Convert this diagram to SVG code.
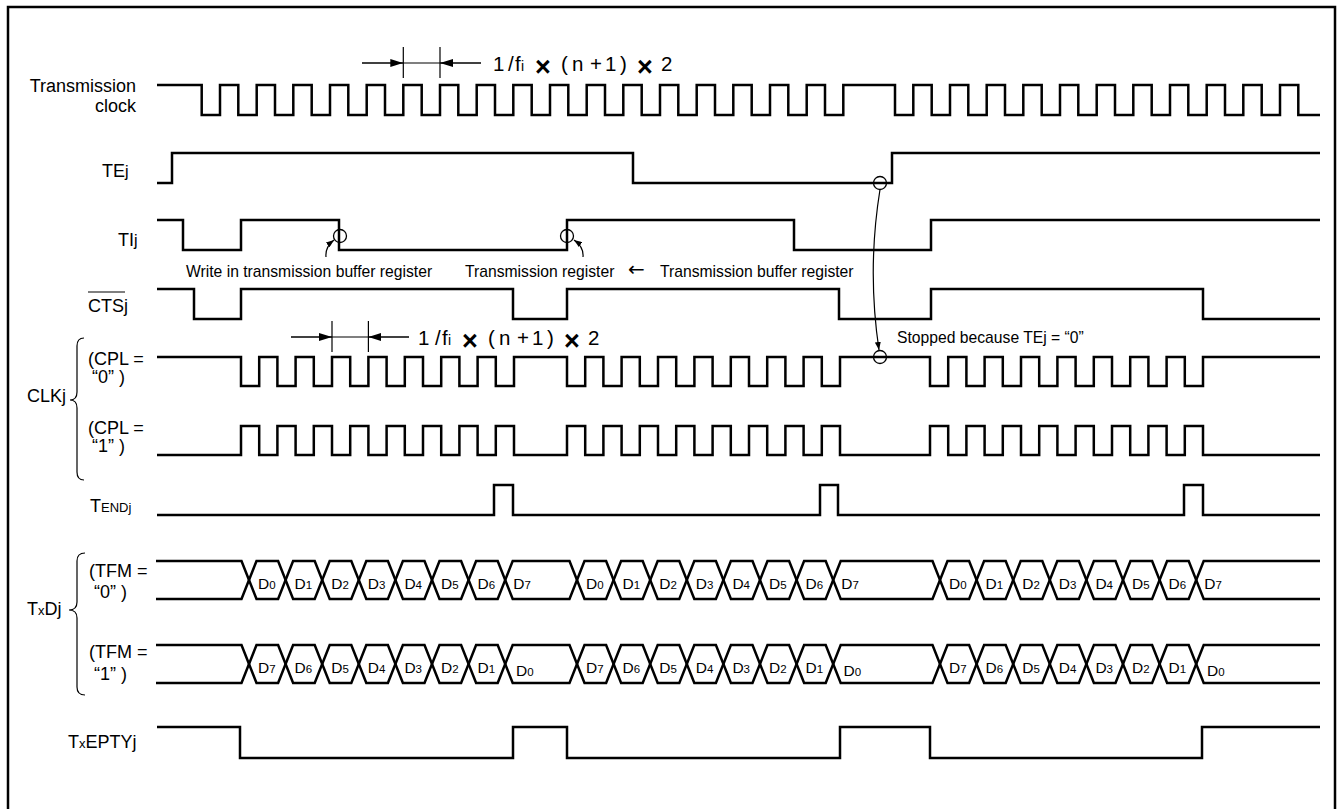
<svg xmlns="http://www.w3.org/2000/svg" xmlns:xlink="http://www.w3.org/1999/xlink" width="1340" height="809" viewBox="0 0 1340 809">
<style>
.sig{fill:none;stroke:#000;stroke-width:2.5;stroke-linejoin:miter;stroke-linecap:butt}
.thin{fill:none;stroke:#000;stroke-width:1.2}
.dim{fill:none;stroke:#000;stroke-width:1.5}
.circ{fill:none;stroke:#000;stroke-width:1.3}
.t{font-family:"Liberation Sans",Arial,sans-serif;fill:#000}
.lab{font-size:18px}
.ann{font-size:15.7px}
.d{font-size:15.5px}
.sub{font-size:11.5px}
.big{font-size:20.5px}
.mul{font-size:27px;font-weight:bold}
</style>
<defs>
<marker id="ah" viewBox="0 0 10 10" refX="10" refY="5" markerWidth="13" markerHeight="8" markerUnits="userSpaceOnUse" orient="auto" preserveAspectRatio="none"><path d="M0 0L10 5L0 10z" fill="#000"/></marker>
<marker id="ahs" viewBox="0 0 10 10" refX="10" refY="5" markerWidth="8" markerHeight="6" markerUnits="userSpaceOnUse" orient="auto" preserveAspectRatio="none"><path d="M0 0L10 5L0 10z" fill="#000"/></marker>
<g id="bus">
<path class="sig" d="M156 -19H241.5L256.5 19H278.1L293.1 -19H314.7L329.7 19H351.3L366.3 -19H387.9L402.9 19H424.5L439.5 -19H461.1L476.1 19H497.7L512.7 -19H569.5L584.5 19H606.1L621.1 -19H642.7L657.7 19H679.3L694.3 -19H715.9L730.9 19H752.5L767.5 -19H789.1L804.1 19H825.7L840.7 -19H932.5L947.5 19H969.1L984.1 -19H1005.7L1020.7 19H1042.3L1057.3 -19H1078.9L1093.9 19H1115.5L1130.5 -19H1152.1L1167.1 19H1188.7L1203.7 -19H1320"/>
<path class="sig" d="M156 19H241.5L256.5 -19H278.1L293.1 19H314.7L329.7 -19H351.3L366.3 19H387.9L402.9 -19H424.5L439.5 19H461.1L476.1 -19H497.7L512.7 19H569.5L584.5 -19H606.1L621.1 19H642.7L657.7 -19H679.3L694.3 19H715.9L730.9 -19H752.5L767.5 19H789.1L804.1 -19H825.7L840.7 19H932.5L947.5 -19H969.1L984.1 19H1005.7L1020.7 -19H1042.3L1057.3 19H1078.9L1093.9 -19H1115.5L1130.5 19H1152.1L1167.1 -19H1188.7L1203.7 19H1320"/>
</g>
</defs>
<rect width="1340" height="809" fill="#fff"/>
<rect id="frame" x="8" y="7" width="1327" height="812" fill="none" stroke="#000" stroke-width="2.5"/>

<g id="transmission-clock">
<text class="t lab" x="136" y="92" text-anchor="end">Transmission</text>
<text class="t lab" x="136" y="112" text-anchor="end">clock</text>
<path class="sig" d="M157 85H201.7V115H220V85H238.3V115H256.7V85H275V115H293.3V85H311.7V115H330V85H348.3V115H366.7V85H385V115H403.3V85H421.7V115H440V85H458.3V115H476.7V85H495V115H513.3V85H531.7V115H550V85H568.3V115H586.7V85H605V115H623.3V85H641.7V115H660V85H678.3V115H696.7V85H715V115H733.3V85H751.7V115H770V85H788.3V115H806.7V85H825V115H843.3V85H895V115H913.3V85H931.7V115H950V85H968.3V115H986.7V85H1005V115H1023.3V85H1041.7V115H1060V85H1078.3V115H1096.7V85H1115V115H1133.3V85H1151.7V115H1170V85H1188.3V115H1206.7V85H1225V115H1243.3V85H1261.7V115H1280V85H1298.3V115H1320"/>
</g>

<g id="TEj">
<text class="t lab" x="102" y="177">TE<tspan font-size="16">j</tspan></text>
<path class="sig" d="M157 183H172V153H633V183H892V153H1320"/>
</g>

<g id="TIj">
<text class="t lab" x="118" y="246">TI<tspan font-size="16">j</tspan></text>
<path class="sig" d="M157 220H183V250H241V220H339V250H567V220H794V250H931V220H1320"/>
</g>

<g id="CTSj">
<text class="t lab" x="88" y="312" font-size="16.5">CTSj</text>
<line class="thin" x1="88" y1="292" x2="125" y2="292"/>
<path class="sig" d="M157 289H194V319H241V289H513V319H567V289H839V319H931V289H1203V319H1320"/>
</g>

<g id="CLKj">
<text class="t lab" x="27" y="402">CLKj</text>
<path class="thin" d="M84 338Q77 338 77 346L77 392Q77 400 70 400Q77 400 77 408L77 472Q77 480 84 480"/>
<text class="t lab" x="88" y="365">(CPL =</text>
<text class="t lab" x="92" y="383">“0” )</text>
<text class="t lab" x="88" y="434">(CPL =</text>
<text class="t lab" x="92" y="452">“1” )</text>
<path class="sig" d="M157 357H241V386H259.2V357H277.4V386H295.6V357H313.8V386H332V357H350.2V386H368.4V357H386.6V386H404.8V357H423V386H441.2V357H459.4V386H477.6V357H495.8V386H514V357H567V386H585.2V357H603.4V386H621.6V357H639.8V386H658V357H676.2V386H694.4V357H712.6V386H730.8V357H749V386H767.2V357H785.4V386H803.6V357H821.8V386H840V357H930V386H948.2V357H966.4V386H984.6V357H1002.8V386H1021V357H1039.2V386H1057.4V357H1075.6V386H1093.8V357H1112V386H1130.2V357H1148.4V386H1166.6V357H1184.8V386H1203V357H1320"/>
<path class="sig" d="M157 455H241V426H259.2V455H277.4V426H295.6V455H313.8V426H332V455H350.2V426H368.4V455H386.6V426H404.8V455H423V426H441.2V455H459.4V426H477.6V455H495.8V426H514V455H567V426H585.2V455H603.4V426H621.6V455H639.8V426H658V455H676.2V426H694.4V455H712.6V426H730.8V455H749V426H767.2V455H785.4V426H803.6V455H821.8V426H840V455H930V426H948.2V455H966.4V426H984.6V455H1002.8V426H1021V455H1039.2V426H1057.4V455H1075.6V426H1093.8V455H1112V426H1130.2V455H1148.4V426H1166.6V455H1184.8V426H1203V455H1320"/>
</g>

<g id="TENDj">
<text class="t lab" x="90" y="512">T<tspan font-size="13">ENDj</tspan></text>
<path class="sig" d="M157 515H494V485H513V515H820V485H838V515H1184V485H1203V515H1320"/>
</g>

<g id="TxDj">
<text class="t lab" x="27" y="615">T<tspan font-size="13">x</tspan>Dj</text>
<path class="thin" d="M85 553Q77 553 77 561L77 602Q77 610 69 610Q77 610 77 618L77 687Q77 695 85 695"/>
<text class="t lab" x="89" y="577">(TFM =</text>
<text class="t lab" x="94" y="598">“0” )</text>
<text class="t lab" x="89" y="658">(TFM =</text>
<text class="t lab" x="94" y="680">“1” )</text>
<use xlink:href="#bus" href="#bus" y="580"/>
<use xlink:href="#bus" href="#bus" y="664"/>
<g class="t d">
<text x="258" y="589">D<tspan class="sub">0</tspan></text>
<text x="294.6" y="589">D<tspan class="sub">1</tspan></text>
<text x="331.2" y="589">D<tspan class="sub">2</tspan></text>
<text x="367.8" y="589">D<tspan class="sub">3</tspan></text>
<text x="404.4" y="589">D<tspan class="sub">4</tspan></text>
<text x="441" y="589">D<tspan class="sub">5</tspan></text>
<text x="477.6" y="589">D<tspan class="sub">6</tspan></text>
<text x="513.2" y="589">D<tspan class="sub">7</tspan></text>
<text x="586" y="589">D<tspan class="sub">0</tspan></text>
<text x="622.6" y="589">D<tspan class="sub">1</tspan></text>
<text x="659.2" y="589">D<tspan class="sub">2</tspan></text>
<text x="695.8" y="589">D<tspan class="sub">3</tspan></text>
<text x="732.4" y="589">D<tspan class="sub">4</tspan></text>
<text x="769" y="589">D<tspan class="sub">5</tspan></text>
<text x="805.6" y="589">D<tspan class="sub">6</tspan></text>
<text x="841.2" y="589">D<tspan class="sub">7</tspan></text>
<text x="949" y="589">D<tspan class="sub">0</tspan></text>
<text x="985.6" y="589">D<tspan class="sub">1</tspan></text>
<text x="1022.2" y="589">D<tspan class="sub">2</tspan></text>
<text x="1058.8" y="589">D<tspan class="sub">3</tspan></text>
<text x="1095.4" y="589">D<tspan class="sub">4</tspan></text>
<text x="1132" y="589">D<tspan class="sub">5</tspan></text>
<text x="1168.6" y="589">D<tspan class="sub">6</tspan></text>
<text x="1204.2" y="589">D<tspan class="sub">7</tspan></text>
<text x="258" y="673">D<tspan class="sub">7</tspan></text>
<text x="294.6" y="673">D<tspan class="sub">6</tspan></text>
<text x="331.2" y="673">D<tspan class="sub">5</tspan></text>
<text x="367.8" y="673">D<tspan class="sub">4</tspan></text>
<text x="404.4" y="673">D<tspan class="sub">3</tspan></text>
<text x="441" y="673">D<tspan class="sub">2</tspan></text>
<text x="477.6" y="673">D<tspan class="sub">1</tspan></text>
<text x="516" y="676">D<tspan class="sub">0</tspan></text>
<text x="586" y="673">D<tspan class="sub">7</tspan></text>
<text x="622.6" y="673">D<tspan class="sub">6</tspan></text>
<text x="659.2" y="673">D<tspan class="sub">5</tspan></text>
<text x="695.8" y="673">D<tspan class="sub">4</tspan></text>
<text x="732.4" y="673">D<tspan class="sub">3</tspan></text>
<text x="769" y="673">D<tspan class="sub">2</tspan></text>
<text x="805.6" y="673">D<tspan class="sub">1</tspan></text>
<text x="843.5" y="676">D<tspan class="sub">0</tspan></text>
<text x="949" y="673">D<tspan class="sub">7</tspan></text>
<text x="985.6" y="673">D<tspan class="sub">6</tspan></text>
<text x="1022.2" y="673">D<tspan class="sub">5</tspan></text>
<text x="1058.8" y="673">D<tspan class="sub">4</tspan></text>
<text x="1095.4" y="673">D<tspan class="sub">3</tspan></text>
<text x="1132" y="673">D<tspan class="sub">2</tspan></text>
<text x="1168.6" y="673">D<tspan class="sub">1</tspan></text>
<text x="1207" y="676">D<tspan class="sub">0</tspan></text>
</g>
</g>

<g id="TxEPTYj">
<text class="t lab" x="68" y="748">T<tspan font-size="13">x</tspan>EPTYj</text>
<path class="sig" d="M157 727H240V758H513V727H567V758H840V727H930V758H1202V727H1320"/>
</g>

<g id="annotations">
<text class="t ann" x="186" y="277">Write in transmission buffer register</text>
<text class="t ann" x="465" y="277">Transmission register</text>
<text x="628" y="276" font-family="'DejaVu Sans',sans-serif" font-size="20">←</text>
<text class="t ann" x="660" y="277">Transmission buffer register</text>
<text class="t ann" x="897" y="343">Stopped because TEj = “0”</text>
<text class="t big"><tspan x="493" y="71">1</tspan><tspan x="508" y="71">/</tspan><tspan x="515" y="71">f</tspan><tspan x="521" y="71" font-size="14">i</tspan><tspan x="535" y="75.5" class="mul">×</tspan><tspan x="561" y="71">(</tspan><tspan x="572" y="71">n</tspan><tspan x="590" y="71">+</tspan><tspan x="605" y="71">1</tspan><tspan x="620" y="71">)</tspan><tspan x="637" y="75.5" class="mul">×</tspan><tspan x="661" y="71">2</tspan></text>
<text class="t big"><tspan x="418" y="345">1</tspan><tspan x="435" y="345">/</tspan><tspan x="442" y="345">f</tspan><tspan x="448" y="345" font-size="14">i</tspan><tspan x="462" y="349.5" class="mul">×</tspan><tspan x="488" y="345">(</tspan><tspan x="499" y="345">n</tspan><tspan x="517" y="345">+</tspan><tspan x="532" y="345">1</tspan><tspan x="547" y="345">)</tspan><tspan x="564" y="349.5" class="mul">×</tspan><tspan x="588" y="345">2</tspan></text>
</g>

<g id="marks">
<circle class="circ" cx="340" cy="236" r="6.5"/>
<circle class="circ" cx="567" cy="236" r="6.5"/>
<circle class="circ" cx="880" cy="183" r="6.5"/>
<circle class="circ" cx="880" cy="357" r="6.5"/>
</g>

<g id="connectors">
<line class="thin" x1="403.3" y1="47" x2="403.3" y2="78"/>
<line class="thin" x1="440" y1="47" x2="440" y2="78"/>
<line class="thin" x1="403.3" y1="63" x2="440" y2="63"/>
<line class="dim" x1="362" y1="63" x2="403.3" y2="63" marker-end="url(#ah)"/>
<line class="dim" x1="481" y1="63" x2="440" y2="63" marker-end="url(#ah)"/>
<line class="thin" x1="332" y1="321" x2="332" y2="352"/>
<line class="thin" x1="368.4" y1="321" x2="368.4" y2="352"/>
<line class="thin" x1="332" y1="337" x2="368.4" y2="337"/>
<line class="dim" x1="291" y1="337" x2="332" y2="337" marker-end="url(#ah)"/>
<line class="dim" x1="409" y1="337" x2="368.4" y2="337" marker-end="url(#ah)"/>
<path class="thin" d="M326 257Q325 247 334 240" marker-end="url(#ahs)"/>
<path class="thin" d="M583 257Q584 247 574 240" marker-end="url(#ahs)"/>
<path class="thin" d="M880 189.5Q867 270 879 350" marker-end="url(#ahs)"/>
</g>
</svg>
